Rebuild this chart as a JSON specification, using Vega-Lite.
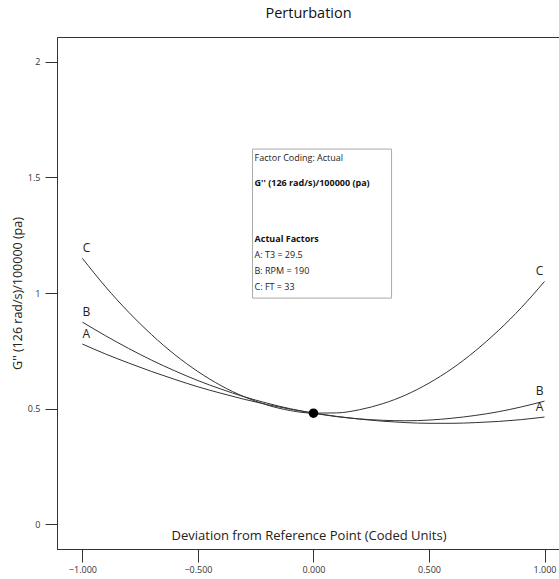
{
  "$schema": "https://vega.github.io/schema/vega-lite/v6.json",
  "width": 503,
  "height": 512,
  "autosize": "none",
  "padding": {"left": 57, "top": 37, "right": 0, "bottom": 30},
  "background": "white",
  "config": {
    "font": "Open Sans",
    "view": {"stroke": "#333", "strokeWidth": 1},
    "axis": {"grid": false, "domainColor": "#333", "tickColor": "#333", "labelColor": "#333", "titleColor": "#222", "labelFont": "Open Sans", "titleFont": "Open Sans"}
  },
  "title": {"text": "Perturbation", "fontSize": 14.5, "fontWeight": "normal", "offset": 16, "color": "#111", "anchor": "middle"},
  "datasets": {
    "curves": [
      {"x": -1.0, "y": 1.15, "series": "C"}, {"x": -0.9, "y": 1.027, "series": "C"}, {"x": -0.8, "y": 0.917, "series": "C"}, {"x": -0.7, "y": 0.819, "series": "C"}, {"x": -0.6, "y": 0.733, "series": "C"}, {"x": -0.5, "y": 0.66, "series": "C"}, {"x": -0.4, "y": 0.599, "series": "C"}, {"x": -0.3, "y": 0.551, "series": "C"}, {"x": -0.2, "y": 0.515, "series": "C"}, {"x": -0.1, "y": 0.491, "series": "C"}, {"x": 0.0, "y": 0.48, "series": "C"}, {"x": 0.1, "y": 0.481, "series": "C"}, {"x": 0.2, "y": 0.495, "series": "C"}, {"x": 0.3, "y": 0.521, "series": "C"}, {"x": 0.4, "y": 0.559, "series": "C"}, {"x": 0.5, "y": 0.61, "series": "C"}, {"x": 0.6, "y": 0.673, "series": "C"}, {"x": 0.7, "y": 0.749, "series": "C"}, {"x": 0.8, "y": 0.837, "series": "C"}, {"x": 0.9, "y": 0.937, "series": "C"}, {"x": 1.0, "y": 1.05, "series": "C"},
      {"x": -1.0, "y": 0.874, "series": "B"}, {"x": -0.9, "y": 0.815, "series": "B"}, {"x": -0.8, "y": 0.76, "series": "B"}, {"x": -0.7, "y": 0.709, "series": "B"}, {"x": -0.6, "y": 0.663, "series": "B"}, {"x": -0.5, "y": 0.621, "series": "B"}, {"x": -0.4, "y": 0.584, "series": "B"}, {"x": -0.3, "y": 0.551, "series": "B"}, {"x": -0.2, "y": 0.523, "series": "B"}, {"x": -0.1, "y": 0.499, "series": "B"}, {"x": 0.0, "y": 0.48, "series": "B"}, {"x": 0.1, "y": 0.465, "series": "B"}, {"x": 0.2, "y": 0.455, "series": "B"}, {"x": 0.3, "y": 0.449, "series": "B"}, {"x": 0.4, "y": 0.447, "series": "B"}, {"x": 0.5, "y": 0.45, "series": "B"}, {"x": 0.6, "y": 0.458, "series": "B"}, {"x": 0.7, "y": 0.47, "series": "B"}, {"x": 0.8, "y": 0.486, "series": "B"}, {"x": 0.9, "y": 0.507, "series": "B"}, {"x": 1.0, "y": 0.532, "series": "B"},
      {"x": -1.0, "y": 0.779, "series": "A"}, {"x": -0.9, "y": 0.736, "series": "A"}, {"x": -0.8, "y": 0.697, "series": "A"}, {"x": -0.7, "y": 0.66, "series": "A"}, {"x": -0.6, "y": 0.626, "series": "A"}, {"x": -0.5, "y": 0.594, "series": "A"}, {"x": -0.4, "y": 0.566, "series": "A"}, {"x": -0.3, "y": 0.54, "series": "A"}, {"x": -0.2, "y": 0.517, "series": "A"}, {"x": -0.1, "y": 0.497, "series": "A"}, {"x": 0.0, "y": 0.48, "series": "A"}, {"x": 0.1, "y": 0.466, "series": "A"}, {"x": 0.2, "y": 0.454, "series": "A"}, {"x": 0.3, "y": 0.445, "series": "A"}, {"x": 0.4, "y": 0.439, "series": "A"}, {"x": 0.5, "y": 0.436, "series": "A"}, {"x": 0.6, "y": 0.436, "series": "A"}, {"x": 0.7, "y": 0.439, "series": "A"}, {"x": 0.8, "y": 0.444, "series": "A"}, {"x": 0.9, "y": 0.452, "series": "A"}, {"x": 1.0, "y": 0.463, "series": "A"}
    ],
    "one": [{}]
  },
  "layer": [
    {
      "data": {"name": "curves"},
      "mark": {"type": "line", "color": "#333", "strokeWidth": 1, "interpolate": "monotone"},
      "encoding": {
        "x": {"field": "x", "type": "quantitative", "scale": {"domain": [-1.11, 1.067], "nice": false, "zero": false},
          "axis": {"values": [-1, -0.5, 0, 0.5, 1], "format": ".3f", "labelFontSize": 9, "tickSize": 13, "labelPadding": 3,
            "title": "Deviation from Reference Point (Coded Units)", "titleFontSize": 13, "titleFontWeight": "normal", "titleY": -14, "titleBaseline": "middle"}},
        "y": {"field": "y", "type": "quantitative", "scale": {"domain": [-0.108, 2.108], "nice": false, "zero": false},
          "axis": {"values": [0, 0.5, 1, 1.5, 2], "format": "~g", "labelFontSize": 9, "tickSize": 12, "labelPadding": 5,
            "title": "G'' (126 rad/s)/100000 (pa)", "titleFontSize": 12.5, "titleFontWeight": "normal", "titleX": -40, "titleY": 256, "titleAngle": -90, "titleAlign": "center", "titleBaseline": "middle"}},
        "detail": {"field": "series"}
      }
    },
    {
      "data": {"name": "curves"},
      "transform": [{"filter": "datum.x == -1"}],
      "mark": {"type": "text", "fontSize": 12, "color": "#222", "dx": 4, "dy": -10, "baseline": "middle", "align": "center"},
      "encoding": {
        "x": {"field": "x", "type": "quantitative"},
        "y": {"field": "y", "type": "quantitative"},
        "text": {"field": "series"}
      }
    },
    {
      "data": {"name": "curves"},
      "transform": [{"filter": "datum.x == 1"}],
      "mark": {"type": "text", "fontSize": 12, "color": "#222", "dx": -5, "dy": -10, "baseline": "middle", "align": "center"},
      "encoding": {
        "x": {"field": "x", "type": "quantitative"},
        "y": {"field": "y", "type": "quantitative"},
        "text": {"field": "series"}
      }
    },
    {
      "data": {"name": "one"},
      "mark": {"type": "point", "filled": true, "color": "black", "size": 90, "opacity": 1},
      "encoding": {"x": {"datum": 0}, "y": {"datum": 0.48}}
    },
    {
      "data": {"name": "one"},
      "mark": {"type": "rect", "fill": "white", "stroke": "#aaa", "strokeWidth": 1},
      "encoding": {"x": {"datum": -0.264}, "x2": {"datum": 0.338}, "y": {"datum": 1.623}, "y2": {"datum": 0.978}}
    },
    {
      "data": {"name": "one"},
      "mark": {"type": "text", "fontSize": 9, "align": "left", "baseline": "middle", "color": "#222", "text": "Factor Coding: Actual"},
      "encoding": {"x": {"datum": -0.255}, "y": {"datum": 1.584}}
    },
    {
      "data": {"name": "one"},
      "mark": {"type": "text", "fontSize": 9, "fontWeight": "bold", "align": "left", "baseline": "middle", "color": "#111", "text": "G'' (126 rad/s)/100000 (pa)"},
      "encoding": {"x": {"datum": -0.255}, "y": {"datum": 1.476}}
    },
    {
      "data": {"name": "one"},
      "mark": {"type": "text", "fontSize": 9, "fontWeight": "bold", "align": "left", "baseline": "middle", "color": "#111", "text": "Actual Factors"},
      "encoding": {"x": {"datum": -0.255}, "y": {"datum": 1.234}}
    },
    {
      "data": {"name": "one"},
      "mark": {"type": "text", "fontSize": 9, "align": "left", "baseline": "middle", "color": "#222", "text": "A: T3 = 29.5"},
      "encoding": {"x": {"datum": -0.255}, "y": {"datum": 1.165}}
    },
    {
      "data": {"name": "one"},
      "mark": {"type": "text", "fontSize": 9, "align": "left", "baseline": "middle", "color": "#222", "text": "B: RPM = 190"},
      "encoding": {"x": {"datum": -0.255}, "y": {"datum": 1.095}}
    },
    {
      "data": {"name": "one"},
      "mark": {"type": "text", "fontSize": 9, "align": "left", "baseline": "middle", "color": "#222", "text": "C: FT = 33"},
      "encoding": {"x": {"datum": -0.255}, "y": {"datum": 1.026}}
    }
  ]
}
